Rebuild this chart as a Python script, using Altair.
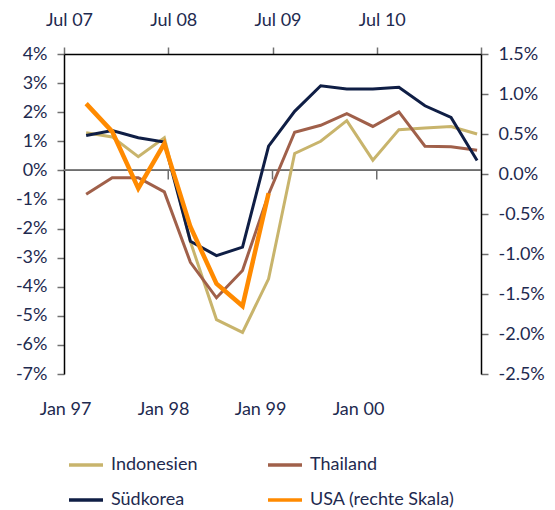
import altair as alt
import pandas as pd

# Quarter index 0..15 (top scale: Q4 07 .. Q3 11)
series_names = ["Indonesien", "Thailand", "Südkorea", "USA (rechte Skala)"]
indonesien = [1.29, 1.15, 0.47, 1.12, -2.45, -5.13, -5.57, -3.73, 0.58, 1.00, 1.71, 0.35, 1.40, 1.46, 1.51, 1.25]
thailand = [-0.82, -0.25, -0.25, -0.74, -3.16, -4.38, -3.44, -0.82, 1.31, 1.55, 1.95, 1.51, 2.01, 0.83, 0.81, 0.69]
suedkorea = [1.20, 1.37, 1.12, 0.97, -2.44, -2.93, -2.64, 0.83, 2.03, 2.91, 2.80, 2.80, 2.86, 2.22, 1.82, 0.34]
usa = [0.88, 0.53, -0.18, 0.38, -0.66, -1.37, -1.65, -0.24]

top_labels = ["Jul 07", "Jul 08", "Jul 09", "Jul 10", ""]
top_ticks = [-0.85, 3.15, 7.15, 11.15, 15.15]
bottom_labels = ["Jan 97", "Jan 98", "Jan 99", "Jan 00"]
bottom_pos = [-0.81, 2.95, 6.67, 10.43]
zero_ticks = [3.15, 7.15, 11.15]

colors = ["#c8b46c", "#a0604a", "#0f1e45", "#ff8a00"]
text_color = "#1e2a4f"
FONT = "Lato"

rows = []
for name, vals in zip(series_names[:3], [indonesien, thailand, suedkorea]):
    for i, v in enumerate(vals):
        rows.append({"series": name, "q": i, "value": v})
asia_df = pd.DataFrame(rows)
usa_df = pd.DataFrame({"series": series_names[3], "q": list(range(len(usa))), "value": usa})
ticks_df = pd.DataFrame({"q": zero_ticks})

xdom = [top_ticks[0], top_ticks[-1]]
xscale = alt.Scale(domain=xdom, nice=False, zero=False)

legend = alt.Legend(
    title=None, orient="none", legendX=3, legendY=392, columns=2,
    direction="horizontal", values=series_names,
    symbolType="stroke", symbolSize=1156, symbolStrokeWidth=3.5,
    labelFont=FONT, labelFontSize=18, labelColor=text_color,
    labelOffset=6, columnPadding=63, rowPadding=7, padding=0,
)
color = alt.Color("series:N", scale=alt.Scale(domain=series_names, range=colors),
                  legend=legend)

bottom_expr = "{}[indexof({}, datum.value)]".format(
    "[" + ",".join("'%s'" % s for s in bottom_labels) + "]",
    "[" + ",".join(str(p) for p in bottom_pos) + "]")
top_expr = "{}[round((datum.value - ({})) / 4)]".format(
    "[" + ",".join("'%s'" % s for s in top_labels) + "]", top_ticks[0])

left_axis = alt.Axis(
    orient="left", values=list(range(-7, 5)), labelExpr="datum.value + '%'",
    title=None, grid=False, domainColor="#000000", domainWidth=1.5,
    tickColor="#707070", tickWidth=1.5, tickSize=7, labelPadding=10,
    labelFont=FONT, labelFontSize=18, labelColor=text_color,
)
right_axis = alt.Axis(
    orient="right", values=[1.5, 1.0, 0.5, 0.0, -0.5, -1.0, -1.5, -2.0, -2.5],
    labelExpr="(datum.value < 0 ? '-' : '') + format(abs(datum.value), '.1f') + '%'",
    title=None, grid=False, domainColor="#000000", domainWidth=1.5,
    tickColor="#707070", tickWidth=1.5, tickSize=7, labelPadding=10,
    labelFont=FONT, labelFontSize=18, labelColor=text_color,
)
bottom_axis = alt.Axis(
    orient="bottom", values=bottom_pos, labelExpr=bottom_expr, title=None,
    grid=False, domain=False, ticks=False, tickSize=0, labelPadding=26,
    labelFlush=False, labelOverlap=False, labelBound=False,
    labelFont=FONT, labelFontSize=18, labelColor=text_color,
)
top_axis = alt.Axis(
    orient="top", values=top_ticks, labelExpr=top_expr, title=None,
    grid=False, domainColor="#000000", domainWidth=1.5,
    tickColor="#707070", tickWidth=1.5, tickSize=7, labelPadding=18,
    labelOffset=5, labelFlush=False, labelOverlap=False, labelBound=False,
    labelFont=FONT, labelFontSize=18, labelColor=text_color,
)


def yleft():
    return alt.Scale(domain=[-7, 4], nice=False, zero=False)


yright = alt.Scale(domain=[-2.5, 1.5], nice=False, zero=False)

zero_line = alt.Chart(ticks_df).mark_rule(color="#6e6e6e", strokeWidth=1.5).encode(
    y=alt.YDatum(0, scale=yleft(), axis=None)
)
zero_tick_marks = alt.Chart(ticks_df).mark_rule(color="#6e6e6e", strokeWidth=1.5).encode(
    x=alt.X("q:Q", scale=xscale, axis=None),
    y=alt.YDatum(0, scale=yleft(), axis=None),
    y2=alt.datum(-0.31),
)
asia_lines = alt.Chart(asia_df).mark_line(strokeWidth=3).encode(
    x=alt.X("q:Q", scale=xscale, axis=bottom_axis),
    y=alt.Y("value:Q", scale=yleft(), axis=left_axis),
    color=color,
    detail="series:N",
)
usa_line = alt.Chart(usa_df).mark_line(strokeWidth=4.5).encode(
    x=alt.X("q:Q", scale=xscale, axis=top_axis),
    y=alt.Y("value:Q", scale=yright, axis=right_axis),
    color=color,
)

chart = alt.layer(zero_line, zero_tick_marks, asia_lines, usa_line).resolve_scale(
    y="independent"
).resolve_axis(
    x="independent", y="independent"
).properties(
    width=417, height=320,
    autosize=alt.AutoSizeParams(type="none"),
    padding={"left": 56, "top": 46, "right": 66, "bottom": 136},
).configure_view(stroke=None)

chart.save("out.html", embed_options={"renderer": "svg", "actions": False})
